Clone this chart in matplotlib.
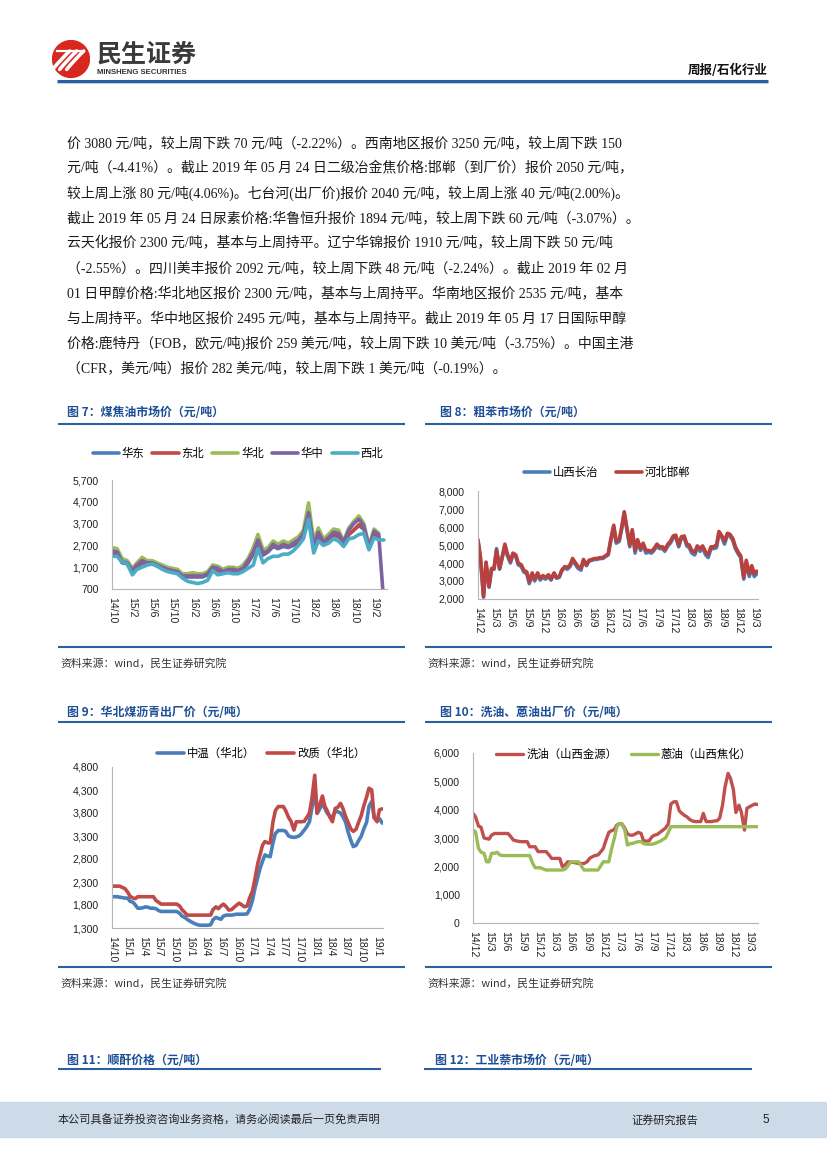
import matplotlib
matplotlib.use('Agg')
import matplotlib.pyplot as plt
import numpy as np
import pandas as pd
from matplotlib.lines import Line2D
from matplotlib.patches import Circle, Rectangle, PathPatch
from matplotlib.path import Path

CJK = ['Noto Sans CJK SC', 'DejaVu Sans']
plt.rcParams['font.family'] = CJK
plt.rcParams['axes.unicode_minus'] = False

W, H = 827, 1169
nan = np.nan

# ---------------- data ----------------
# Fig 7: coal tar market price (monthly, from 2014-10)
c7_labels = ['华东', '东北', '华北', '华中', '西北']
c7_huadong = [2350, 2300, 1900, 1850, 1500, 1700, 1900, 1850, 1850, 1750,
              1650, 1550, 1500, 1450, 1250, 1250, 1250, 1250, 1250, 1350,
              1600, 1550, 1450, 1500, 1500, 1500, 1600, 1900, 2300, 2850,
              2250, 2400, 2650, 2550, 2650, 2600, 2700, 2850, 3150, 4050,
              2650, 3150, 2800, 2950, 3150, 3100, 2800, 3200, 3400, 3600,
              3450, 2550, 3100, 3050, nan]
c7_dongbei = [2400, 2350, 1950, 1900, 1550, 1750, 1950, 1900, 1900, 1800,
              1700, 1600, 1550, 1500, 1300, 1300, 1300, 1300, 1300, 1400,
              1650, 1600, 1500, 1550, 1550, 1550, 1650, 1950, 2350, 2900,
              2300, 2450, 2700, 2600, 2700, 2650, 2750, 2900, 3200, 4100,
              2700, 3200, 2850, 3000, 3200, 3150, 2850, 3200, 3400, 3650,
              3500, 2600, 3150, 3100, nan]
c7_huabei = [2600, 2550, 2100, 2000, 1650, 1900, 2150, 2000, 2000, 1900,
             1800, 1700, 1650, 1600, 1400, 1400, 1450, 1400, 1400, 1500,
             1800, 1750, 1600, 1700, 1700, 1650, 1800, 2100, 2600, 3200,
             2500, 2600, 2900, 2750, 2900, 2800, 2950, 3100, 3400, 4650,
             2900, 3500, 3000, 3200, 3450, 3400, 2900, 3500, 3800, 4050,
             3700, 2700, 3450, 3250, nan]
c7_huazhong = [2450, 2400, 1950, 1900, 1550, 1800, 2000, 1900, 1900, 1800,
               1700, 1600, 1550, 1500, 1300, 1300, 1300, 1300, 1300, 1400,
               1700, 1650, 1500, 1600, 1600, 1550, 1650, 2000, 2400, 2950,
               2350, 2450, 2750, 2600, 2750, 2650, 2800, 2950, 3250, 4200,
               2700, 3300, 2850, 3050, 3300, 3250, 2850, 3400, 3700, 3900,
               3600, 2600, 3350, 3200, 0]
c7_xibei = [2200, 2200, 1950, 1850, 1350, 1600, 1700, 1800, 1850, 1750,
            1600, 1500, 1450, 1400, 1200, 1050, 1000, 950, 1000, 1100,
            1550, 1350, 1400, 1450, 1400, 1400, 1500, 1650, 1800, 2550,
            1900, 2100, 2200, 2200, 2300, 2300, 2450, 2700, 3000, 3900,
            2350, 2900, 2700, 2800, 3000, 2900, 2650, 3000, 3050, 3200,
            3250, 2500, 3050, 2950, 2950]
c7_ticks = ['14/10', '15/2', '15/6', '15/10', '16/2', '16/6', '16/10',
            '17/2', '17/6', '17/10', '18/2', '18/6', '18/10', '19/2']
c7_yticks = [700, 1700, 2700, 3700, 4700, 5700]

# Fig 8: crude benzene (semi-monthly, from 2014-12)
c8_labels = ['山西长治', '河北邯郸']
c8_changzhi = [5200, 4200, 2100, 4000, 2650, 3650, 3650, 4800, 3650, 4250,
               4950, 4400, 4000, 4450, 4350, 3900, 3800, 3500, 3400, 2850,
               3350, 3000, 3350, 3050, 3200, 3100, 3250, 3050, 3400, 3150,
               3200, 3550, 3750, 3650, 3800, 4150, 3900, 3700, 3600, 4100,
               3850, 4100, 4150, 4200, 4200, 4250, 4250, 4350, 4450, 5200,
               6000, 5100, 5200, 5900, 6750, 5900, 4900, 5750, 4550, 5200,
               4700, 5000, 4550, 4600, 4550, 4700, 4950, 4800, 4800, 4650,
               4950, 5100, 5400, 5450, 4900, 5350, 5400, 4950, 4850, 4550,
               4450, 4850, 4650, 4850, 4450, 4300, 4800, 4800, 4850, 5650,
               5400, 5050, 5550, 5500, 5250, 4800, 4500, 4300, 3100, 4000,
               3250, 3700, 3250, 3400]
c8_handan = [5300, 4300, 2150, 4050, 2700, 3700, 3700, 4700, 3700, 4300,
             5050, 4500, 4100, 4550, 4450, 4000, 3900, 3600, 3500, 2950,
             3450, 3100, 3450, 3150, 3300, 3200, 3350, 3100, 3450, 3200,
             3250, 3600, 3800, 3750, 3900, 4250, 4000, 3800, 3700, 4200,
             3900, 4150, 4200, 4250, 4250, 4300, 4300, 4400, 4500, 5300,
             6100, 5200, 5300, 6000, 6850, 6000, 5000, 5850, 4700, 5300,
             4800, 5100, 4700, 4700, 4650, 4800, 5050, 4900, 4900, 4750,
             5050, 5200, 5500, 5550, 5000, 5450, 5500, 5050, 5000, 4700,
             4600, 4950, 4800, 4950, 4600, 4450, 4900, 4900, 5000, 5750,
             5500, 5200, 5650, 5600, 5350, 4900, 4600, 4400, 3200, 4150,
             3400, 3850, 3400, 3550]
c8_ticks = ['14/12', '15/3', '15/6', '15/9', '15/12', '16/3', '16/6', '16/9',
            '16/12', '17/3', '17/6', '17/9', '17/12', '18/3', '18/6', '18/9',
            '18/12', '19/3']
c8_yticks = [2000, 3000, 4000, 5000, 6000, 7000, 8000]

# Fig 9: North China coal tar pitch (semi-monthly, from 2014-10)
c9_labels = ['中温（华北）', '改质（华北）']
c9_zhongwen = [1980, 1980, 1980, 1970, 1960, 1950, 1950, 1880, 1860, 1800,
               1730, 1730, 1740, 1760, 1750, 1730, 1730, 1720, 1680, 1660,
               1660, 1660, 1660, 1660, 1660, 1660, 1620, 1560, 1530, 1490,
               1450, 1420, 1390, 1370, 1360, 1360, 1360, 1360, 1370, 1480,
               1530, 1510, 1490, 1560, 1580, 1580, 1580, 1590, 1600, 1600,
               1600, 1600, 1610, 1700, 1900, 2150, 2400, 2600, 2750, 2890,
               2860, 2850, 3150, 3350, 3420, 3420, 3420, 3400, 3300, 3280,
               3270, 3280, 3300, 3350, 3430, 3500, 3610, 3900, 4300, 3790,
               3900, 4010, 3900, 3800, 3720, 3720, 3830, 3830, 3800, 3720,
               3600, 3390, 3200, 3070, 3100, 3200, 3300, 3450, 3600, 3950,
               4050, 3700, 3650, 3680, 3580]
c9_gaizhi = [2210, 2210, 2210, 2210, 2180, 2160, 2080, 1990, 1950, 1940,
             1980, 1980, 1980, 1980, 1980, 1980, 1980, 1900, 1860, 1820,
             1820, 1820, 1820, 1820, 1820, 1820, 1780, 1700, 1640, 1580,
             1580, 1580, 1580, 1580, 1580, 1580, 1580, 1580, 1580, 1700,
             1760, 1720, 1780, 1820, 1760, 1690, 1700, 1750, 1800, 1840,
             1800, 1760, 1780, 1950, 2100, 2350, 2700, 2900, 3100, 3180,
             3150, 3150, 3600, 3850, 3940, 3940, 3940, 3850, 3700, 3620,
             3430, 3610, 3610, 3610, 3620, 3700, 3800, 4100, 4620, 3800,
             4000, 4170, 3950, 3850, 3700, 3610, 3900, 3920, 4010, 3900,
             3720, 3600, 3450, 3400, 3450, 3600, 3750, 3950, 4150, 4340,
             4300, 3700, 3610, 3870, 3890]
c9_ticks = ['14/10', '15/1', '15/4', '15/7', '15/10', '16/1', '16/4', '16/7',
            '16/10', '17/1', '17/4', '17/7', '17/10', '18/1', '18/4', '18/7',
            '18/10', '19/1']
c9_yticks = [1300, 1800, 2300, 2800, 3300, 3800, 4300, 4800]

# Fig 10: wash oil / anthracene oil (semi-monthly, from 2014-12)
c10_labels = ['洗油（山西金源）', '蒽油（山西焦化）']
c10_xiyou = [3870, 3750, 3420, 3380, 3000, 2980, 2960, 3100, 3160, 3160,
             3160, 3160, 3160, 3160, 3050, 2930, 2900, 2880, 2870, 2870,
             2870, 2690, 2690, 2690, 2520, 2520, 2520, 2520, 2400, 2280,
             2280, 2280, 2280, 1990, 2050, 2160, 2150, 2140, 2120, 2100,
             2100, 2100, 2160, 2280, 2340, 2380, 2400, 2500, 2630, 2900,
             3200, 3250, 3300, 3460, 3500, 3500, 3340, 3150, 3100, 3100,
             3150, 3200, 3160, 2900, 2890, 2900, 3050, 3100, 3130, 3200,
             3280, 3350, 3500, 4200, 4280, 4280, 3950, 3870, 3800, 3750,
             3650, 3600, 3580, 3580, 3580, 3870, 3580, 3580, 3580, 3600,
             3610, 3700, 4160, 4800, 5280, 5100, 4700, 3900, 4160, 3900,
             3280, 4050, 4100, 4150, 4200, 4180]
c10_enyou = [3280, 3220, 2630, 2500, 2460, 2160, 2160, 2460, 2460, 2500,
             2400, 2380, 2380, 2380, 2380, 2380, 2380, 2380, 2380, 2380,
             2380, 2380, 2100, 1950, 1950, 1950, 1900, 1870, 1870, 1870,
             1870, 1870, 1870, 1870, 1900, 2000, 2160, 2160, 2160, 2160,
             2000, 1870, 1870, 1870, 1870, 1870, 1870, 2000, 2160, 2160,
             2160, 2580, 2990, 3400, 3520, 3480, 3280, 2750, 2800, 2810,
             2850, 2870, 2870, 2800, 2780, 2780, 2780, 2800, 2850, 2880,
             2950, 3000, 3200, 3400, 3400, 3400, 3400, 3400, 3400, 3400,
             3400, 3400, 3400, 3400, 3400, 3400, 3400, 3400, 3400, 3400,
             3400, 3400, 3400, 3400, 3400, 3400, 3400, 3400, 3400, 3400,
             3400, 3400, 3400, 3400, 3400, 3400]
c10_ticks = c8_ticks
c10_yticks = [0, 1000, 2000, 3000, 4000, 5000, 6000]

body_lines = [
    '价 3080 元/吨，较上周下跌 70 元/吨（-2.22%）。西南地区报价 3250 元/吨，较上周下跌 150',
    '元/吨（-4.41%）。截止 2019 年 05 月 24 日二级冶金焦价格:邯郸（到厂价）报价 2050 元/吨，',
    '较上周上涨 80 元/吨(4.06%)。七台河(出厂价)报价 2040 元/吨，较上周上涨 40 元/吨(2.00%)。',
    '截止 2019 年 05 月 24 日尿素价格:华鲁恒升报价 1894 元/吨，较上周下跌 60 元/吨（-3.07%）。',
    '云天化报价 2300 元/吨，基本与上周持平。辽宁华锦报价 1910 元/吨，较上周下跌 50 元/吨',
    '（-2.55%）。四川美丰报价 2092 元/吨，较上周下跌 48 元/吨（-2.24%）。截止 2019 年 02 月',
    '01 日甲醇价格:华北地区报价 2300 元/吨，基本与上周持平。华南地区报价 2535 元/吨，基本',
    '与上周持平。华中地区报价 2495 元/吨，基本与上周持平。截止 2019 年 05 月 17 日国际甲醇',
    '价格:鹿特丹（FOB，欧元/吨)报价 259 美元/吨，较上周下跌 10 美元/吨（-3.75%）。中国主港',
    '（CFR，美元/吨）报价 282 美元/吨，较上周下跌 1 美元/吨（-0.19%）。',
]

# ---------------- figure ----------------
fig = plt.figure(figsize=(8.27, 11.69), dpi=100)


def fx(x):
    return x / W


def fy(y):
    return 1 - y / H


def hline(x0, x1, y, color, lw):
    fig.add_artist(Line2D([fx(x0), fx(x1)], [fy(y), fy(y)], color=color, lw=lw,
                          transform=fig.transFigure, solid_capstyle='butt'))


TITLE_C = '#1d4f96'
LINE_C = '#2d60a3'

# header logo
lax = fig.add_axes([fx(52), fy(78), 38 / W, 38 / H])
lax.set_xlim(-1, 1)
lax.set_ylim(-1, 1)
lax.set_aspect('equal')
lax.axis('off')
lax.add_patch(Circle((0, 0), 0.97, color='#d7271f'))
for dx in (-0.42, -0.05, 0.32):
    verts = [(-0.55 + dx, -0.55), (-0.05 + dx, 0.05), (0.35 + dx, 0.42)]
    lax.add_patch(PathPatch(Path(verts, [Path.MOVETO, Path.CURVE3, Path.CURVE3]),
                            fc='none', ec='white', lw=2.6, capstyle='round'))
lax.plot([-0.75, 0.55], [0.42, 0.42], color='white', lw=1.6)
fig.text(fx(97), fy(55), '民生证券', fontsize=18, fontweight='bold', color='#3a3a3a',
         va='center', ha='left')
fig.text(fx(97), fy(72.5), 'MINSHENG SECURITIES', fontsize=5.6, fontweight='bold',
         family='Liberation Sans', color='#333333', va='center', ha='left')
fig.text(fx(768), fy(70), '周报/石化行业', fontsize=9, fontweight='bold', color='#111111',
         va='center', ha='right')
hline(57, 768, 81, '#2a5ea6', 2.2)
hline(57, 768, 83.2, '#c9c9c9', 0.7)

# body text
for i, s in enumerate(body_lines):
    fig.text(fx(67), fy(143 + 25 * i), s, fontsize=10,
             family=['Liberation Serif', 'Noto Sans CJK SC'], color='#1a1a1a',
             va='center', ha='left')


def title_block(text, x, y, lx0, lx1, ly):
    fig.text(fx(x), fy(y), text, fontsize=8.6, fontweight='bold', color=TITLE_C,
             va='center', ha='left')
    hline(lx0, lx1, ly, LINE_C, 1.5)


def source_block(x, y, lx0, lx1, ly):
    hline(lx0, lx1, ly, LINE_C, 1.5)
    fig.text(fx(x), fy(y), '资料来源：wind，民生证券研究院', fontsize=7.8, color='#333333',
             va='center', ha='left')


def make_chart(box, dates, series, yticks, tick_labels, xlim, leg_xy, leg_kw):
    left, top, right, bottom = box
    ax = fig.add_axes([fx(left), fy(bottom), fx(right) - fx(left), fy(top) - fy(bottom)])
    handles = []
    for vals, color, lab, lw in series:
        h, = ax.plot(dates, vals, color=color, lw=lw, label=lab,
                     solid_joinstyle='round', solid_capstyle='round')
        handles.append(h)
    ax.set_ylim(yticks[0], yticks[-1])
    ax.set_yticks(yticks)
    ax.set_yticklabels([f'{v:,}' for v in yticks])
    tdates = pd.to_datetime(['20' + t for t in tick_labels], format='%Y/%m')
    ax.set_xticks(tdates)
    ax.set_xticklabels(tick_labels, rotation=-90)
    ax.set_xlim(pd.Timestamp(xlim[0]), pd.Timestamp(xlim[1]))
    for s in ('top', 'right'):
        ax.spines[s].set_visible(False)
    for s in ('left', 'bottom'):
        ax.spines[s].set_color('#b5b5b5')
        ax.spines[s].set_linewidth(0.8)
    ax.tick_params(axis='y', length=0, pad=9.5, labelsize=7.6, labelcolor='#222222')
    ax.tick_params(axis='x', length=0, pad=6, labelsize=7.6, labelcolor='#222222')
    for lab in ax.get_yticklabels() + ax.get_xticklabels():
        lab.set_family('Liberation Sans')
    ax.patch.set_alpha(0)
    ax.legend(handles=handles, loc='center', bbox_to_anchor=(fx(leg_xy[0]), fy(leg_xy[1])),
              bbox_transform=fig.transFigure, ncol=len(handles), frameon=False,
              prop={'family': CJK, 'size': 8.2}, **leg_kw)
    return ax


BLUE = '#4a7ebb'
RED = '#be4b48'
GREEN = '#9bbb59'
PURPLE = '#7f62a1'
CYAN = '#4bacc6'

# Figure 7
title_block('图 7：煤焦油市场价（元/吨）', 67, 413, 58, 405, 424)
d7 = pd.date_range('2014-10-01', periods=len(c7_xibei), freq='MS')
make_chart((112, 480, 387, 589), d7,
           [(c7_huadong, BLUE, c7_labels[0], 2.6), (c7_dongbei, RED, c7_labels[1], 2.6),
            (c7_huabei, GREEN, c7_labels[2], 2.6), (c7_huazhong, PURPLE, c7_labels[3], 2.6),
            (c7_xibei, CYAN, c7_labels[4], 2.6)],
           c7_yticks, c7_ticks, ('2014-10-01', '2019-04-20'), (238, 453),
           dict(handlelength=2.3, handletextpad=0.25, columnspacing=0.7))
source_block(60, 663, 58, 405, 647)

# Figure 8
title_block('图 8：粗苯市场价（元/吨）', 440, 413, 425, 772, 424)
d8 = pd.date_range('2014-12-01', periods=len(c8_handan), freq='SMS')
make_chart((478, 491, 758, 599), d8,
           [(c8_changzhi, BLUE, c8_labels[0], 2.6), (c8_handan, '#b8413e', c8_labels[1], 2.6)],
           c8_yticks, c8_ticks, ('2014-12-01', '2019-03-22'), (607, 472),
           dict(handlelength=2.3, handletextpad=0.25, columnspacing=1.5))
source_block(427, 663, 425, 772, 647)

# Figure 9
title_block('图 9：华北煤沥青出厂价（元/吨）', 67, 713, 58, 405, 722)
d9 = pd.date_range('2014-10-01', periods=len(c9_gaizhi), freq='SMS')
make_chart((112, 767, 383, 928), d9,
           [(c9_zhongwen, BLUE, c9_labels[0], 2.6), (c9_gaizhi, RED, c9_labels[1], 2.6)],
           c9_yticks, c9_ticks, ('2014-10-01', '2019-02-05'), (261, 753),
           dict(handlelength=2.4, handletextpad=0.25, columnspacing=1.0))
source_block(60, 983, 58, 405, 967)

# Figure 10
title_block('图 10：洗油、蒽油出厂价（元/吨）', 440, 712, 425, 772, 722)
d10 = pd.date_range('2014-12-01', periods=len(c10_xiyou), freq='SMS')
make_chart((473, 753, 758, 923), d10,
           [(c10_xiyou, '#c0504d', c10_labels[0], 2.4), (c10_enyou, GREEN, c10_labels[1], 2.4)],
           c10_yticks, c10_ticks, ('2014-12-01', '2019-04-18'), (624, 754),
           dict(handlelength=2.4, handletextpad=0.25, columnspacing=1.2))
source_block(427, 983, 425, 772, 967)

# Figures 11/12 headers
title_block('图 11：顺酐价格（元/吨）', 67, 1060, 58, 381, 1069)
title_block('图 12：工业萘市场价（元/吨）', 435, 1060, 424, 752, 1069)

# footer
fig.add_artist(Rectangle((0, fy(1137)), 1, (1137 - 1102) / H, transform=fig.transFigure,
                         color='#cddbe9', zorder=0))
fig.text(fx(58), fy(1120), '本公司具备证券投资咨询业务资格，请务必阅读最后一页免责声明',
         fontsize=8, color='#222222', va='center', ha='left')
fig.text(fx(631), fy(1120), '证券研究报告', fontsize=8, color='#222222', va='center', ha='left')
fig.text(fx(762), fy(1120), '5', fontsize=8.5, family='Liberation Sans', color='#222222',
         va='center', ha='left')

fig.savefig('out.png', dpi=100)
